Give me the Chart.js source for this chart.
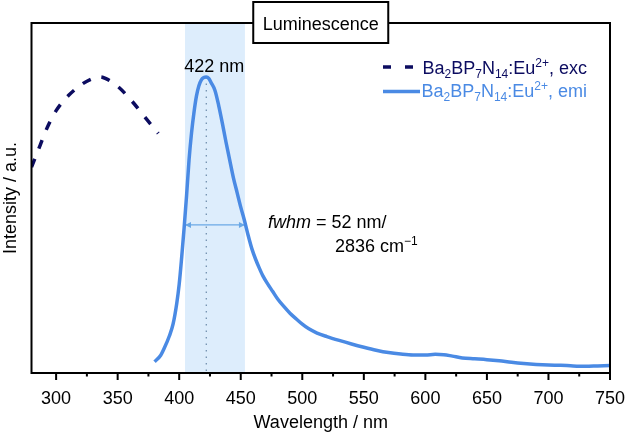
<!DOCTYPE html>
<html><head><meta charset="utf-8">
<script src="https://cdn.jsdelivr.net/npm/chart.js@4/dist/chart.umd.min.js"></script>
<style>html,body{margin:0;padding:0;background:#fff}</style>
</head><body>
<canvas id="c" width="626" height="434"></canvas>
<script>
// ---- data ----
const excWavelength = [280, 287, 293, 300, 310, 322, 330, 336, 340, 350, 361, 372, 383];
const excIntensity  = [0.695, 0.769, 0.831, 0.886, 0.937, 0.978, 0.995, 1.0, 0.995, 0.968, 0.921, 0.865, 0.809];

const emiWavelength = [380, 385, 388, 392, 395, 398, 400, 402, 404, 406, 408, 410, 412, 414, 416, 418, 420, 422, 424, 426, 429, 432, 435, 438, 441, 444, 447, 450, 453, 456, 459, 462, 465, 468, 472, 476, 480, 485, 490, 495, 500, 505, 512, 520, 530, 540, 550, 560, 570, 580, 590, 600, 608, 615, 622, 630, 640, 650, 660, 670, 680, 690, 700, 710, 720, 730, 740, 750];
const emiIntensity  = [0.038, 0.06, 0.085, 0.125, 0.165, 0.235, 0.30, 0.39, 0.49, 0.60, 0.72, 0.81, 0.88, 0.935, 0.97, 0.99, 0.998, 1.0, 0.995, 0.98, 0.955, 0.905, 0.845, 0.78, 0.72, 0.66, 0.61, 0.56, 0.515, 0.465, 0.42, 0.385, 0.355, 0.328, 0.3, 0.275, 0.25, 0.225, 0.202, 0.183, 0.165, 0.15, 0.135, 0.123, 0.11, 0.098, 0.087, 0.077, 0.069, 0.064, 0.061, 0.061, 0.063, 0.062, 0.057, 0.051, 0.048, 0.045, 0.041, 0.036, 0.032, 0.029, 0.027, 0.026, 0.024, 0.023, 0.024, 0.025];

const majorTicks = [300, 350, 400, 450, 500, 550, 600, 650, 700, 750];
const minorTicks = [325, 375, 425, 475, 525, 575, 625, 675, 725];

const peakWavelength = 422;
const peakIntensity = 1.0;
const fwhmRange = [404.7, 453.4];
const fwhmLevel = 0.5;

const titleText = 'Luminescence';
const peakLabel = '422 nm';
const excLabel = [['Ba','n'],['2','sub'],['BP','n'],['7','sub'],['N','n'],['14','sub'],[':Eu','n'],['2+','sup'],[', exc','n']];
const emiLabel = [['Ba','n'],['2','sub'],['BP','n'],['7','sub'],['N','n'],['14','sub'],[':Eu','n'],['2+','sup'],[', emi','n']];

// ---- styles ----
const FONT = '"Liberation Sans", Arial, Helvetica, sans-serif';
const EXC_COLOR = '#0c0c60';
const EMI_COLOR = '#4a8ae4';
const SHADE_COLOR = '#ddedfc';
const ARROW_COLOR = '#6aa8e6';
const DOT_COLOR = '#6a88a8';

function drawRich(ctx, x, y, segs, color) {
  ctx.fillStyle = color;
  ctx.textBaseline = 'alphabetic';
  ctx.textAlign = 'left';
  for (const [t, kind] of segs) {
    if (kind === 'n') { ctx.font = '18px ' + FONT; ctx.fillText(t, x, y); x += ctx.measureText(t).width; }
    else if (kind === 'i') { ctx.font = 'italic 18px ' + FONT; ctx.fillText(t, x, y); x += ctx.measureText(t).width; }
    else if (kind === 'sub') { ctx.font = '12px ' + FONT; ctx.fillText(t, x, y + 4); x += ctx.measureText(t).width; }
    else if (kind === 'sup') { ctx.font = '12px ' + FONT; ctx.fillText(t, x, y - 7); x += ctx.measureText(t).width; }
  }
  return x;
}

const decor = {
  id: 'decor',
  beforeDatasetsDraw(chart) {
    const ctx = chart.ctx, a = chart.chartArea, xs = chart.scales.x, ys = chart.scales.y;
    ctx.save();
    const x1 = xs.getPixelForValue(fwhmRange[0]), x2 = xs.getPixelForValue(fwhmRange[1]);
    ctx.fillStyle = SHADE_COLOR;
    ctx.fillRect(x1, a.top, x2 - x1, a.bottom - a.top);
    const xp = xs.getPixelForValue(peakWavelength);
    ctx.strokeStyle = DOT_COLOR; ctx.lineWidth = 1.2; ctx.setLineDash([1.5, 5]);
    ctx.beginPath(); ctx.moveTo(xp, ys.getPixelForValue(peakIntensity)); ctx.lineTo(xp, a.bottom); ctx.stroke();
    ctx.setLineDash([]);
    const ya = ys.getPixelForValue(fwhmLevel);
    ctx.strokeStyle = ARROW_COLOR; ctx.fillStyle = ARROW_COLOR; ctx.lineWidth = 1.2;
    ctx.beginPath(); ctx.moveTo(x1 + 1, ya); ctx.lineTo(x2 - 1, ya); ctx.stroke();
    ctx.beginPath(); ctx.moveTo(x1, ya); ctx.lineTo(x1 + 6, ya - 3); ctx.lineTo(x1 + 6, ya + 3); ctx.closePath(); ctx.fill();
    ctx.beginPath(); ctx.moveTo(x2, ya); ctx.lineTo(x2 - 6, ya - 3); ctx.lineTo(x2 - 6, ya + 3); ctx.closePath(); ctx.fill();
    ctx.restore();
  },
  afterDatasetsDraw(chart) {
    const ctx = chart.ctx, a = chart.chartArea, xs = chart.scales.x, ys = chart.scales.y;
    ctx.save();
    ctx.strokeStyle = '#000'; ctx.lineWidth = 2;
    ctx.strokeRect(a.left, a.top, a.right - a.left, a.bottom - a.top);
    ctx.beginPath();
    for (const v of majorTicks) { const x = xs.getPixelForValue(v); ctx.moveTo(x, a.bottom); ctx.lineTo(x, a.bottom + 7); }
    for (const v of minorTicks) { const x = xs.getPixelForValue(v); ctx.moveTo(x, a.bottom); ctx.lineTo(x, a.bottom + 3.5); }
    ctx.stroke();
    const cx = (a.left + a.right) / 2;
    ctx.fillStyle = '#fff';
    ctx.fillRect(cx - 67.5, 2, 135, 41);
    ctx.strokeRect(cx - 67.5, 2, 135, 41);
    ctx.fillStyle = '#000'; ctx.font = '18px ' + FONT; ctx.textAlign = 'center'; ctx.textBaseline = 'alphabetic';
    ctx.fillText(titleText, cx, 30);
    const xp = xs.getPixelForValue(peakWavelength);
    ctx.fillText(peakLabel, xp + 8, ys.getPixelForValue(peakIntensity) - 5);
    const ya = ys.getPixelForValue(fwhmLevel);
    drawRich(ctx, 268, ya + 3, [['fwhm','i'],[' = 52 nm/','n']], '#000');
    drawRich(ctx, 335, ya + 27, [['2836 cm','n'],['\u22121','sup']], '#000');
    ctx.strokeStyle = EXC_COLOR; ctx.lineWidth = 3.5;
    ctx.beginPath(); ctx.moveTo(383, 67); ctx.lineTo(391, 67); ctx.moveTo(405, 67); ctx.lineTo(413, 67); ctx.stroke();
    drawRich(ctx, 422.5, 74, excLabel, EXC_COLOR);
    ctx.strokeStyle = EMI_COLOR;
    ctx.beginPath(); ctx.moveTo(383, 91.5); ctx.lineTo(420, 91.5); ctx.stroke();
    drawRich(ctx, 421.5, 97, emiLabel, EMI_COLOR);
    ctx.restore();
  }
};

new Chart(document.getElementById('c'), {
  type: 'line',
  data: {
    datasets: [
      { label: 'exc', data: excWavelength.map((x, i) => ({x, y: excIntensity[i]})),
        borderColor: EXC_COLOR, borderWidth: 3.5, borderDash: [9, 11], pointRadius: 0, fill: false,
        cubicInterpolationMode: 'monotone' },
      { label: 'emi', data: emiWavelength.map((x, i) => ({x, y: emiIntensity[i]})),
        borderColor: EMI_COLOR, borderWidth: 3.5, pointRadius: 0, fill: false,
        cubicInterpolationMode: 'monotone' }
    ]
  },
  options: {
    responsive: false, animation: false,
    layout: { padding: { top: 23, right: 16, left: 0, bottom: 0 } },
    plugins: { legend: { display: false }, tooltip: { enabled: false } },
    scales: {
      x: {
        type: 'linear', min: 280, max: 750,
        afterBuildTicks(s) { s.ticks = majorTicks.map(v => ({ value: v })); },
        afterFit(s) { s.height = 61; s.paddingLeft = 0; s.paddingRight = 0; },
        ticks: { autoSkip: false, maxRotation: 0, padding: 7, color: '#000', font: { family: FONT, size: 18 } },
        grid: { display: false }, border: { display: false },
        title: { display: true, text: 'Wavelength / nm', color: '#000', font: { family: FONT, size: 18 }, padding: { top: 0, bottom: 0 } }
      },
      y: {
        min: 0, max: 1.182,
        afterFit(s) { s.width = 31.5; s.paddingTop = 0; s.paddingBottom = 0; },
        ticks: { display: false }, grid: { display: false }, border: { display: false },
        title: { display: true, text: 'Intensity / a.u.', color: '#000', font: { family: FONT, size: 18 }, padding: { top: 0, bottom: 0 } }
      }
    }
  },
  plugins: [decor]
});
</script>
</body></html>
